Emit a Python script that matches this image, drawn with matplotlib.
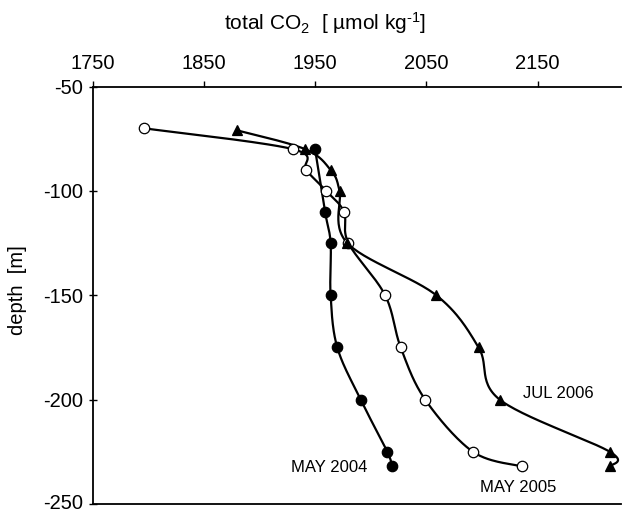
import numpy as np
import matplotlib
matplotlib.use("Agg")
import matplotlib.pyplot as plt
from matplotlib.transforms import ScaledTranslation

# ---- data ----
may2004_co2 = [1950, 1959, 1964, 1964, 1970, 1991, 2015, 2019]
may2004_depth = [-80, -110, -125, -150, -175, -200, -225, -232]

may2005_co2 = [1796, 1930, 1942, 1960, 1976, 1980, 2013, 2027, 2049, 2092, 2136]
may2005_depth = [-70, -80, -90, -100, -110, -125, -150, -175, -200, -225, -232]

jul2006_co2 = [1880, 1941, 1964, 1972, 1979, 2059, 2097, 2116, 2215, 2215]
jul2006_depth = [-71, -80, -90, -100, -125, -150, -175, -200, -225, -232]

x_ticks = [1750, 1850, 1950, 2050, 2150]
y_ticks = [-50, -100, -150, -200, -250]

series_labels = ['MAY 2004', 'MAY 2005', 'JUL 2006']

plt.rcParams['font.family'] = ['Liberation Sans', 'DejaVu Sans']
plt.rcParams['axes.unicode_minus'] = False
plt.rcParams['mathtext.fontset'] = 'custom'
plt.rcParams['mathtext.rm'] = 'Liberation Sans'
plt.rcParams['mathtext.it'] = 'Liberation Sans:italic'
plt.rcParams['mathtext.bf'] = 'Liberation Sans:bold'

fig = plt.figure(figsize=(6.22, 5.11), dpi=100)
ax = fig.add_axes([92.5 / 622, 1 - 504 / 511, (621 - 92.5) / 622, (504 - 86.5) / 511])
ax.set_xlim(1750, 2225)
ax.set_ylim(-250, -50)


def smooth(ax, xs, ys, n=30):
    """Catmull-Rom smoothing done in display space (like a smoothed line)."""
    pts = ax.transData.transform(np.column_stack([xs, ys]))
    P = np.vstack([pts[0], pts, pts[-1]])
    out = []
    for i in range(1, len(P) - 2):
        p0, p1, p2, p3 = P[i - 1], P[i], P[i + 1], P[i + 2]
        t = np.linspace(0, 1, n)[:, None]
        seg = 0.5 * ((2 * p1) + (-p0 + p2) * t + (2 * p0 - 5 * p1 + 4 * p2 - p3) * t ** 2
                     + (-p0 + 3 * p1 - 3 * p2 + p3) * t ** 3)
        out.append(seg)
    curve = np.vstack(out)
    data = ax.transData.inverted().transform(curve)
    return data[:, 0], data[:, 1]


series = [
    (may2004_co2, may2004_depth, dict(marker='o', mfc='black', mec='black')),
    (may2005_co2, may2005_depth, dict(marker='o', mfc='white', mec='black')),
    (jul2006_co2, jul2006_depth, dict(marker='^', mfc='black', mec='black')),
]
for xs, ys, st in series:
    sx, sy = smooth(ax, xs, ys)
    ax.plot(sx, sy, color='black', lw=1.6, zorder=2)
for xs, ys, st in series:
    ax.plot(xs, ys, ls='none', ms=7.5, mew=0.9, zorder=3, **st)

ax.xaxis.tick_top()
ax.set_xticks(x_ticks)
ax.set_yticks(y_ticks)
ax.tick_params(axis='x', direction='out', length=4, width=1, labelsize=14.5, pad=6, colors='black')
ax.tick_params(axis='y', direction='inout', length=6, width=1, labelsize=14.5, pad=4)
ax.spines['right'].set_visible(False)
for s in ['top', 'left', 'bottom']:
    ax.spines[s].set_linewidth(1.3)

# nudge the bottom y tick label up a little so it stays inside the picture
fig.canvas.draw()
lab = ax.get_yticklabels()[-1]
lab.set_transform(lab.get_transform() + ScaledTranslation(0, 3 / 100, fig.dpi_scale_trans))

fig.text(325 / 622, 1 - 23 / 511, 'total CO$_2$  [ µmol kg$^{\u2010 1}$]', ha='center', va='center',
         fontsize=15)
fig.text(18 / 622, 1 - 290 / 511, 'depth  [m]', rotation=90, ha='center', va='center', fontsize=14.5)

label_pos = [(1963, -232.3), (2133, -242), (2169, -197)]
for name, (lx, ly) in zip(series_labels, label_pos):
    ax.text(lx, ly, name, fontsize=12, ha='center', va='center')

fig.savefig('out.png', dpi=100)
